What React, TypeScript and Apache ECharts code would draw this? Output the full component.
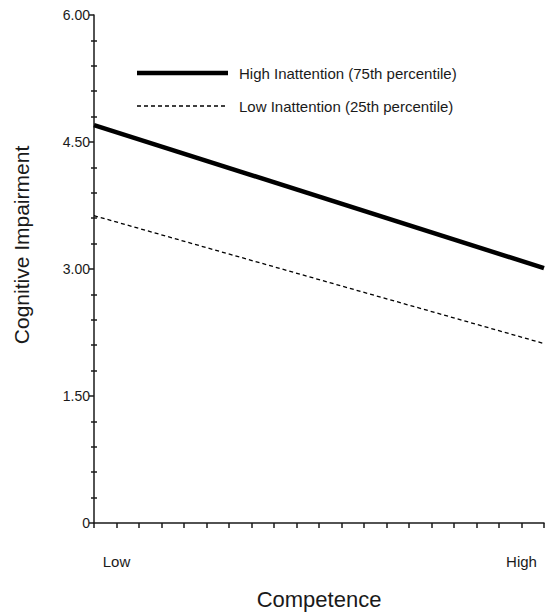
import React, { useEffect, useRef } from "react";
import * as echarts from "echarts";

const competence: number[] = [0, 20];
const highInattention: number[] = [4.7, 3.01];
const lowInattention: number[] = [3.63, 2.12];
const seriesNames: string[] = [
  "High Inattention (75th percentile)",
  "Low Inattention (25th percentile)",
];
const xTickLabels: Record<number, string> = { 1: "Low", 19: "High" };

const FONT = "Liberation Sans, Arial, sans-serif";
const INK = "#1a1a1a";
const DASH = [4, 3];

export default function App() {
  const ref = useRef<HTMLDivElement>(null);
  useEffect(() => {
    if (!ref.current) return;
    const chart = echarts.init(ref.current, undefined, { renderer: "svg" });
    chart.setOption({
      animation: false,
      backgroundColor: "#ffffff",
      textStyle: { fontFamily: FONT, color: INK },
      grid: { left: 94, right: -5, top: 15, bottom: 91, containLabel: false },
      graphic: [
        {
          type: "line",
          shape: { x1: 137, y1: 73, x2: 228, y2: 73 },
          style: { stroke: "#000", lineWidth: 4.5 },
        },
        {
          type: "text",
          x: 239,
          y: 73,
          style: { text: seriesNames[0], fontFamily: FONT, fontSize: 15, fill: INK, verticalAlign: "middle" },
        },
        {
          type: "line",
          shape: { x1: 137, y1: 106, x2: 228, y2: 106 },
          style: { stroke: "#000", lineWidth: 1.3, lineDash: DASH },
        },
        {
          type: "text",
          x: 239,
          y: 106,
          style: { text: seriesNames[1], fontFamily: FONT, fontSize: 15, fill: INK, verticalAlign: "middle" },
        },
      ],
      xAxis: {
        type: "value",
        min: 0,
        max: 20,
        interval: 1,
        name: "Competence",
        nameLocation: "middle",
        nameGap: 65,
        nameTextStyle: { fontFamily: FONT, fontSize: 22, color: INK },
        axisLine: { show: true, lineStyle: { color: INK, width: 1.5 } },
        axisTick: { show: true, length: 5, lineStyle: { color: INK, width: 1.5 } },
        axisLabel: {
          margin: 31,
          fontSize: 15,
          color: INK,
          fontFamily: FONT,
          formatter: (v: number) => xTickLabels[Math.round(v)] ?? "",
        },
        splitLine: { show: false },
      },
      yAxis: [
        {
          type: "value",
          min: 0,
          max: 6,
          interval: 1.5,
          name: "Cognitive Impairment",
          nameLocation: "middle",
          nameGap: 62,
          nameRotate: 90,
          nameTextStyle: { fontFamily: FONT, fontSize: 21, color: INK, padding: [0, 0, 0, 48] },
          axisLine: { show: true, lineStyle: { color: INK, width: 1.5 } },
          axisTick: { show: true, length: 5, lineStyle: { color: INK, width: 1.5 } },
          minorTick: { show: true, splitNumber: 5, length: 3, lineStyle: { color: INK, width: 1.5 } },
          axisLabel: {
            margin: 4,
            fontSize: 14,
            color: INK,
            fontFamily: FONT,
            formatter: (v: number) => (v === 0 ? "0" : v.toFixed(2)),
          },
          splitLine: { show: false },
        },
        {
          type: "value",
          min: 0,
          max: 6,
          interval: 1.5,
          position: "left",
          offset: 0,
          axisLine: { show: false },
          axisTick: { show: false, inside: true },
          minorTick: { show: true, splitNumber: 5, length: 3, lineStyle: { color: INK, width: 1.5 } },
          axisLabel: { show: false },
          splitLine: { show: false },
        },
      ],
      series: [
        {
          name: seriesNames[0],
          type: "line",
          symbol: "none",
          data: competence.map((x, i) => [x, highInattention[i]]),
          lineStyle: { color: "#000000", width: 4.5, type: "solid" },
          itemStyle: { color: "#000000" },
        },
        {
          name: seriesNames[1],
          type: "line",
          symbol: "none",
          data: competence.map((x, i) => [x, lowInattention[i]]),
          lineStyle: { color: "#000000", width: 1.3, type: DASH },
          itemStyle: { color: "#000000" },
        },
      ],
    });
    return () => chart.dispose();
  }, []);
  return <div ref={ref} style={{ width: 547, height: 615, position: "absolute", left: 0, top: 0 }} />;
}
